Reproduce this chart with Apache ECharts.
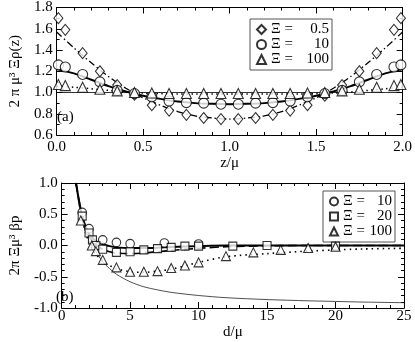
<!DOCTYPE html>
<html>
<head>
<meta charset="utf-8">
<script src="https://cdn.jsdelivr.net/npm/echarts@6/dist/echarts.min.js"></script>
<style>html,body{margin:0;padding:0;background:#fff}#c{width:415px;height:342px}</style>
</head>
<body>
<div id="c"></div>
<script>
// ---------- panel (a) data ----------
const zPts   = [0.01,0.05,0.15,0.25,0.35,0.45,0.55,0.65,0.75,0.85,0.95,1.05,1.15,1.25,1.35,1.45,1.55,1.65,1.75,1.85,1.95,1.99];
const rho05  = [1.70,1.59,1.37,1.20,1.07,0.98,0.88,0.83,0.79,0.76,0.75,0.75,0.76,0.79,0.83,0.88,0.97,1.07,1.20,1.37,1.59,1.70];
const rho10  = [1.26,1.24,1.17,1.10,1.02,0.99,0.96,0.92,0.905,0.90,0.89,0.89,0.90,0.905,0.92,0.96,0.99,1.02,1.10,1.17,1.24,1.26];
const rho100 = [1.075,1.065,1.05,1.03,1.015,1.0,0.995,0.99,0.99,0.99,0.99,0.99,0.99,0.99,0.99,0.995,1.0,1.015,1.03,1.05,1.065,1.075];
const zCurve   = [0,0.1,0.2,0.3,0.4,0.5,0.6,0.7,0.8,0.9,1.0,1.1,1.2,1.3,1.4,1.5,1.6,1.7,1.8,1.9,2.0];
const curve05  = [1.57,1.42,1.28,1.15,1.04,0.95,0.88,0.82,0.78,0.76,0.75,0.76,0.78,0.82,0.88,0.95,1.04,1.15,1.28,1.42,1.57];
const curve10  = [1.22,1.18,1.12,1.06,1.01,0.97,0.94,0.915,0.90,0.893,0.89,0.893,0.90,0.915,0.94,0.97,1.01,1.06,1.12,1.18,1.22];
const curve100 = [1.06,1.05,1.035,1.02,1.005,0.995,0.99,0.985,0.985,0.985,0.985,0.985,0.985,0.985,0.985,0.99,0.995,1.005,1.02,1.035,1.05,1.06];
const refLevelA = 1.0;
const labelsA = ['Ξ = 0.5','Ξ = 10','Ξ = 100'];

// ---------- panel (b) data ----------
const dCirc = [1.5,2.0,3.0,4.0,5.0,7.5,10.0];
const p10   = [0.53,0.27,0.09,0.05,0.03,0.04,0.025];
const dSq   = [1.5,2.0,2.25,2.5,3.0,4.0,5.0,6.0,7.0,8.0,9.0,10.0,12.5,15.0,20.0];
const p20   = [0.47,0.20,0.09,0.0,-0.06,-0.11,-0.10,-0.07,-0.05,-0.03,-0.01,-0.01,-0.01,0.0,-0.01];
const dTri  = [1.4,2.2,2.5,3.0,4.0,5.0,6.0,7.0,8.0,9.0,10.0,12.0,14.0,16.0,18.0,20.0];
const p100  = [0.40,0.0,-0.09,-0.23,-0.35,-0.42,-0.42,-0.41,-0.36,-0.32,-0.27,-0.17,-0.11,-0.07,-0.04,-0.02];
const dCurve  = [1.05,1.2,1.4,1.6,1.8,2.0,2.25,2.5,3.0,3.5,4.0,5.0,6.0,7.0,8.0,10.0,12.0,15.0,18.0,20.0,22.0,25.0];
const cur10   = [1.0,0.8,0.57,0.40,0.28,0.19,0.12,0.07,0.02,-0.01,-0.03,-0.04,-0.04,-0.035,-0.025,-0.01,0.0,0.0,0.0,0.0,0.0,0.0];
const cur20   = [1.0,0.8,0.56,0.38,0.25,0.15,0.07,0.01,-0.06,-0.10,-0.12,-0.13,-0.12,-0.10,-0.08,-0.045,-0.02,-0.005,0.0,0.0,0.0,0.0];
const cur100  = [1.0,0.78,0.52,0.32,0.17,0.05,-0.06,-0.14,-0.25,-0.32,-0.37,-0.42,-0.43,-0.41,-0.38,-0.27,-0.18,-0.13,-0.09,-0.07,-0.055,-0.045];
const curLim  = [1.0,0.78,0.52,0.33,0.19,0.08,-0.02,-0.10,-0.26,-0.37,-0.46,-0.58,-0.66,-0.71,-0.75,-0.80,-0.835,-0.865,-0.885,-0.895,-0.905,-0.915];
const labelsB = ['Ξ = 10','Ξ = 20','Ξ = 100'];

const zip = (xs, ys) => xs.map((x, i) => [x, ys[i]]);
const FONT = "'Liberation Serif', 'Times New Roman', serif";
const FS = 15;
const BLACK = '#000';

function xAx(grid, min, max, interval, fmt, name, gap, margin, pos) {
  const top = pos === 'top';
  return {
    gridIndex: grid, type: 'value', min, max, interval, position: pos,
    axisLine: { show: true, onZero: false, lineStyle: { color: BLACK, width: 1 } },
    axisTick: { show: true, inside: true, length: 6, lineStyle: { color: BLACK } },
    minorTick: { show: true, splitNumber: 5, length: 3, lineStyle: { color: BLACK } },
    splitLine: { show: false }, minorSplitLine: { show: false },
    axisLabel: { show: !top, formatter: fmt, margin, color: BLACK, fontFamily: FONT, fontSize: FS },
    name: top ? '' : name, nameLocation: 'middle', nameGap: gap,
    nameTextStyle: { color: BLACK, fontFamily: FONT, fontSize: FS }
  };
}
function yAx(grid, min, max, interval, minorSplit, fmt, name, gap, pos) {
  const right = pos === 'right';
  return {
    gridIndex: grid, type: 'value', min, max, interval, position: pos,
    axisLine: { show: true, onZero: false, lineStyle: { color: BLACK, width: 1 } },
    axisTick: { show: true, inside: true, length: 6, lineStyle: { color: BLACK } },
    minorTick: { show: true, splitNumber: minorSplit, length: 3, lineStyle: { color: BLACK } },
    splitLine: { show: false }, minorSplitLine: { show: false },
    axisLabel: { show: !right, formatter: fmt, margin: 4, color: BLACK, fontFamily: FONT, fontSize: FS },
    name: right ? '' : name, nameLocation: 'middle', nameGap: gap, nameRotate: 90,
    nameTextStyle: { color: BLACK, fontFamily: FONT, fontSize: FS }
  };
}
const f1 = v => v.toFixed(1);
const f0 = v => String(Math.round(v));

function scatter(name, xi, yi, pts, sym, size) {
  return { name, type: 'scatter', xAxisIndex: xi, yAxisIndex: yi, data: pts, symbol: sym, symbolSize: size,
    clip: false, z: 5,
    itemStyle: { color: '#fff', borderColor: BLACK, borderWidth: 1.1 } };
}
function curve(xi, yi, pts, type, width, color) {
  return { type: 'line', xAxisIndex: xi, yAxisIndex: yi, data: pts, showSymbol: false, symbol: 'none',
    smooth: 0.3, z: 3, silent: true,
    lineStyle: { color: color || BLACK, width, type } };
}

function legendFmt(n) {
  const parts = n.split('=');
  return '{a|' + parts[0].trim() + ' =}{b|' + parts[1].trim() + '}';
}

const option = {
  animation: false,
  backgroundColor: '#fff',
  textStyle: { fontFamily: FONT },
  grid: [
    { left: 51, right: 11, top: 5, height: 130 },
    { left: 51, right: 11, top: 183, height: 125 }
  ],
  xAxis: [
    xAx(0, 0, 2, 0.5, f1, 'z/μ', 20, 5, 'bottom'),
    xAx(0, 0, 2, 0.5, f1, '', 0, 5, 'top'),
    xAx(1, 0, 25, 5, f0, 'd/μ', 10, 1, 'bottom'),
    xAx(1, 0, 25, 5, f0, '', 0, 1, 'top')
  ],
  yAxis: [
    yAx(0, 0.6, 1.8, 0.2, 2, f1, '2 π μ³ Ξρ(z)', 29, 'left'),
    yAx(0, 0.6, 1.8, 0.2, 2, f1, '', 0, 'right'),
    yAx(1, -1, 1, 0.5, 5, f1, '2π Ξμ³ βp', 30, 'left'),
    yAx(1, -1, 1, 0.5, 5, f1, '', 0, 'right')
  ],
  legend: [
    {
      data: labelsA, orient: 'vertical', right: 83, top: 19,
      itemWidth: 9, itemHeight: 9, itemGap: 0, itemTextGap: 7,
      padding: [3, 3, 3, 6], borderColor: '#555', borderWidth: 1, backgroundColor: '#fff',
      formatter: legendFmt, selectedMode: false,
      textStyle: { color: BLACK, fontFamily: FONT, fontSize: FS, lineHeight: 13,
        rich: { a: { fontFamily: FONT, fontSize: FS, width: 24, lineHeight: 13 },
                b: { fontFamily: FONT, fontSize: FS, width: 34, align: 'right', lineHeight: 13 } } }
    },
    {
      data: labelsB, orient: 'vertical', right: 20, top: 191,
      itemWidth: 8, itemHeight: 8, itemGap: 0, itemTextGap: 8,
      padding: [3, 3, 3, 6], borderColor: '#555', borderWidth: 1, backgroundColor: '#fff',
      formatter: legendFmt, selectedMode: false,
      textStyle: { color: BLACK, fontFamily: FONT, fontSize: FS, lineHeight: 14,
        rich: { a: { fontFamily: FONT, fontSize: FS, width: 24, lineHeight: 14 },
                b: { fontFamily: FONT, fontSize: FS, width: 25, align: 'right', lineHeight: 14 } } }
    }
  ],
  graphic: [
    { type: 'text', left: 57, top: 110, style: { text: '(a)', font: "15px 'Liberation Serif'", fill: BLACK } },
    { type: 'text', left: 56, top: 290, style: { text: '(b)', font: "15px 'Liberation Serif'", fill: BLACK } }
  ],
  series: [
    // panel (a)
    Object.assign(curve(0, 0, zip(zCurve, curve05), [7, 3, 1.5, 3], 1.3), {
      markLine: { silent: true, symbol: 'none', label: { show: false },
        lineStyle: { color: BLACK, width: 0.8, type: 'solid' }, data: [{ yAxis: refLevelA }] }
    }),
    curve(0, 0, zip(zCurve, curve10), 'solid', 2),
    curve(0, 0, zip(zCurve, curve100), [1.5, 3.5], 1.5),
    scatter(labelsA[0], 0, 0, zip(zPts, rho05), 'diamond', [9, 11]),
    scatter(labelsA[1], 0, 0, zip(zPts, rho10), 'circle', 10),
    scatter(labelsA[2], 0, 0, zip(zPts, rho100), 'triangle', 10),
    // panel (b)
    curve(2, 2, zip(dCurve, curLim), 'solid', 0.8, '#222'),
    curve(2, 2, zip(dCurve, cur10), 'solid', 2),
    curve(2, 2, zip(dCurve, cur20), [9, 4], 1.6),
    curve(2, 2, zip(dCurve, cur100), [1.5, 4], 1.6),
    scatter(labelsB[0], 2, 2, zip(dCirc, p10), 'circle', 8.5),
    scatter(labelsB[1], 2, 2, zip(dSq, p20), 'rect', 8),
    scatter(labelsB[2], 2, 2, zip(dTri, p100), 'triangle', 9)
  ]
};

const chart = echarts.init(document.getElementById('c'), null, { renderer: 'canvas' });
chart.setOption(option);
</script>
</body>
</html>
